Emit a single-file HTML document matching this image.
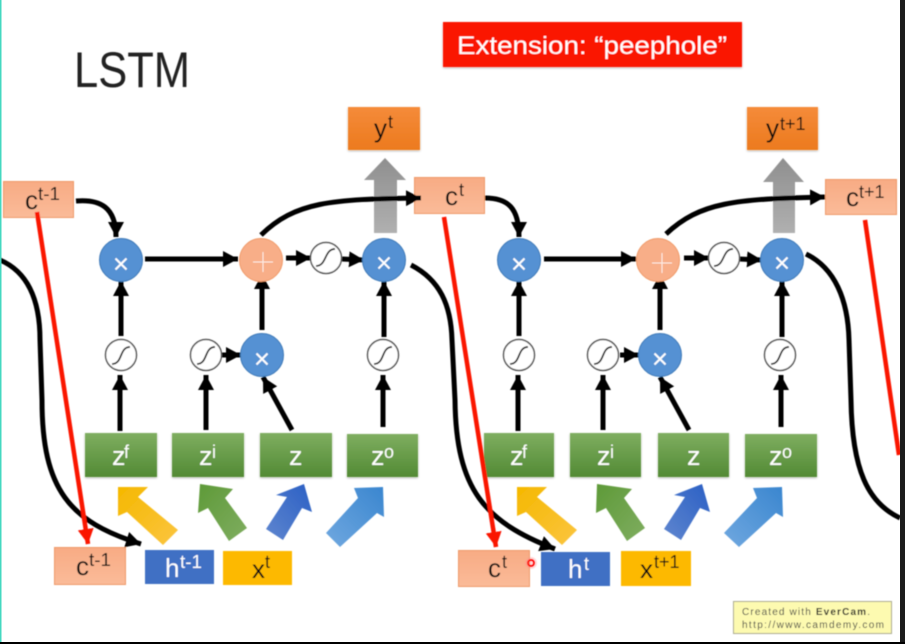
<!DOCTYPE html>
<html><head><meta charset="utf-8"><style>
html,body{margin:0;padding:0;background:#fff;width:905px;height:644px;overflow:hidden}
svg{display:block}
text{font-family:"Liberation Sans",sans-serif}
</style></head><body>
<svg width="905" height="644" viewBox="0 0 905 644" xmlns="http://www.w3.org/2000/svg">
<defs>
<linearGradient id="gr" x1="0" y1="0" x2="0" y2="1"><stop offset="0" stop-color="#7fae60"/><stop offset="1" stop-color="#528a34"/></linearGradient>
<linearGradient id="or" x1="0" y1="0" x2="0" y2="1"><stop offset="0" stop-color="#f58b3a"/><stop offset="1" stop-color="#ec7a1e"/></linearGradient>
<linearGradient id="pe" x1="0" y1="0" x2="0" y2="1"><stop offset="0" stop-color="#f8ab84"/><stop offset="1" stop-color="#fabb99"/></linearGradient>
<linearGradient id="ga" x1="0" y1="0" x2="0" y2="1"><stop offset="0" stop-color="#8f8f8f"/><stop offset="1" stop-color="#b0b0b0"/></linearGradient>
<linearGradient id="yl" x1="0" y1="0" x2="1" y2="1"><stop offset="0" stop-color="#f5b800"/><stop offset="1" stop-color="#fbc540"/></linearGradient>
<linearGradient id="gn" x1="0" y1="0" x2="1" y2="1"><stop offset="0" stop-color="#5e9a38"/><stop offset="1" stop-color="#7fad60"/></linearGradient>
<linearGradient id="bl" x1="1" y1="0" x2="0" y2="1"><stop offset="0" stop-color="#2a5fc4"/><stop offset="1" stop-color="#5f86cf"/></linearGradient>
<linearGradient id="lb" x1="1" y1="0" x2="0" y2="1"><stop offset="0" stop-color="#3a86cf"/><stop offset="1" stop-color="#70a8e0"/></linearGradient>
<marker id="a" markerUnits="userSpaceOnUse" markerWidth="18" markerHeight="18" refX="15" refY="8" orient="auto"><path d="M0,0 L15,8 L0,16 Z" fill="#000"/></marker>
<marker id="r" markerUnits="userSpaceOnUse" markerWidth="18" markerHeight="18" refX="15" refY="8" orient="auto"><path d="M0,0 L15,8 L0,16 Z" fill="#fa1400"/></marker>
<filter id="s" x="-10%" y="-10%" width="120%" height="130%"><feDropShadow dx="0" dy="1" stdDeviation="1" flood-color="#000" flood-opacity=".3"/></filter>
<filter id="b" x="-5%" y="-5%" width="110%" height="110%"><feGaussianBlur stdDeviation="0.45"/></filter>
</defs>
<rect width="905" height="644" fill="#fff"/>
<g filter="url(#b)">
<text x="74" y="87" font-size="50" fill="#222" textLength="116" lengthAdjust="spacingAndGlyphs">LSTM</text>
<rect x="443" y="22" width="299" height="45" fill="#fa1400" filter="url(#s)"/>
<text x="457" y="54" font-size="25" fill="#fff" textLength="270" lengthAdjust="spacingAndGlyphs">Extension: “peephole”</text>

<!-- LEFT BLOCK -->
<polygon points="385,158 406,180 397,180 397,233 374,233 374,180 364,180" fill="url(#ga)"/>
<polygon points="118,487 148,487 138,497 178,530 163,545 127,512 118,516" fill="url(#yl)"/>
<polygon points="200,484 233,489 225,498 247,528 229,541 208,508 198,513" fill="url(#gn)"/>
<polygon points="304,484 312,512 302,508 283,540 266,529 287,497 276,495" fill="url(#bl)"/>
<polygon points="383,487 384,517 377,513 340,547 326,533 358,498 354,488" fill="url(#lb)"/>

<rect x="85" y="433" width="72" height="44" fill="url(#gr)" filter="url(#s)"/>
<rect x="172" y="433" width="72" height="44" fill="url(#gr)" filter="url(#s)"/>
<rect x="260" y="433" width="72" height="44" fill="url(#gr)" filter="url(#s)"/>
<rect x="347" y="434" width="71" height="43" fill="url(#gr)" filter="url(#s)"/>
<text x="112" y="465" font-size="27" fill="#fff">z</text><text x="124" y="458" font-size="18" fill="#fff">f</text>
<text x="199" y="465" font-size="27" fill="#fff">z</text><text x="212" y="458" font-size="18" fill="#fff">i</text>
<text x="289" y="465" font-size="27" fill="#fff">z</text>
<text x="371" y="465" font-size="27" fill="#fff">z</text><text x="384" y="458" font-size="18" fill="#fff">o</text>

<rect x="3.5" y="181.5" width="70" height="36" fill="url(#pe)" stroke="#ee9a68"/>
<text x="25" y="209" font-size="26" fill="#111">c</text><text x="38" y="200" font-size="18" fill="#111" textLength="22" lengthAdjust="spacingAndGlyphs">t-1</text>
<rect x="54.5" y="547.5" width="71" height="37" fill="url(#pe)" stroke="#ee9a68"/>
<text x="76" y="575" font-size="26" fill="#111">c</text><text x="89" y="566" font-size="18" fill="#111" textLength="22" lengthAdjust="spacingAndGlyphs">t-1</text>
<rect x="145" y="550" width="69" height="34" fill="#3f6fc4"/>
<text x="165" y="577" font-size="26" fill="#fff">h</text><text x="180" y="568" font-size="18" fill="#fff" textLength="22" lengthAdjust="spacingAndGlyphs">t-1</text>
<rect x="223" y="551" width="69" height="34" fill="#fdb900"/>
<text x="252" y="578" font-size="26" fill="#111">x</text><text x="265" y="568" font-size="18" fill="#111">t</text>
<rect x="348" y="107" width="72" height="43" fill="url(#or)" filter="url(#s)"/>
<text x="374" y="137" font-size="26" fill="#111">y</text><text x="388" y="128" font-size="18" fill="#111">t</text>
<rect x="414.5" y="177.5" width="70" height="36" fill="url(#pe)" stroke="#ee9a68"/>
<text x="445" y="205" font-size="26" fill="#111">c</text><text x="459" y="196" font-size="18" fill="#111">t</text>

<g fill="none" stroke="#000" stroke-width="5">
<path d="M0,260 C28,272 40,300 40,340 L42,400 C42,490 70,522 141,544" marker-end="url(#a)"/>
<path d="M76,201 C100,199 116,207 116,237" marker-end="url(#a)"/>
<path d="M145,259 L238,259" marker-end="url(#a)"/>
<path d="M286,258 L311,258" marker-end="url(#a)"/>
<path d="M342,259 L364,260" marker-end="url(#a)"/>
<path d="M121,336 L121,281" marker-end="url(#a)"/>
<path d="M120,431 L120,375" marker-end="url(#a)"/>
<path d="M206,430 L206,375" marker-end="url(#a)"/>
<path d="M222,355 L241,355" marker-end="url(#a)"/>
<path d="M262,330 L262,274" marker-end="url(#a)"/>
<path d="M292,430 L263,377" marker-end="url(#a)"/>
<path d="M383,427 L383,375" marker-end="url(#a)"/>
<path d="M384,337 L384,281" marker-end="url(#a)"/>
<path d="M261,235 C295,202 330,199 421,198" marker-end="url(#a)"/>
<path d="M411,265 C440,280 451,305 452,340 L455,400 C456,490 485,522 555,549" marker-end="url(#a)"/>
</g>

<g stroke="#3f7ab8" fill="#5591d3">
<circle cx="121" cy="260" r="21.5"/><circle cx="384" cy="260" r="21.5"/><circle cx="262" cy="355" r="21.5"/>
</g>
<circle cx="261" cy="260" r="21.5" fill="#f8ae88" stroke="#f09a68"/>
<g stroke="#fff" stroke-width="2" fill="none">
<path d="M115.500,258.500 l11,11 m0,-11 l-11,11"/>
<path d="M378.500,257.500 l11,11 m0,-11 l-11,11"/>
<path d="M256.500,353.500 l11,11 m0,-11 l-11,11"/>
<path d="M263,252 v20 m-10,-10 h20" stroke-width="1" opacity=".8"/>
</g>
<g fill="#fff" stroke="#555" stroke-width="1.500">
<circle cx="326" cy="258" r="15.500"/><circle cx="121" cy="355" r="15.500"/><circle cx="206" cy="355" r="15.500"/><circle cx="383" cy="355" r="15.500"/>
</g>
<g fill="none" stroke="#222" stroke-width="1.700">
<path d="M316,266 C327,266 324,249 335,249"/>
<path d="M112,364 C123,364 119,347 130,347"/>
<path d="M197,364 C208,364 204,347 215,347"/>
<path d="M374,364 C385,364 381,347 392,347"/>
</g>

<!-- RIGHT BLOCK -->
<polygon points="783,158 804,182 795,182 795,233 773,233 773,182 763,182" fill="url(#ga)"/>
<polygon points="517,487 547,487 537,497 577,530 562,545 526,512 517,516" fill="url(#yl)"/>
<polygon points="597,484 632,489 624,498 645,528 627,541 606,508 596,513" fill="url(#gn)"/>
<polygon points="702,484 710,512 700,508 681,540 664,529 685,497 674,495" fill="url(#bl)"/>
<polygon points="782,487 783,517 776,513 739,547 724,533 757,498 753,488" fill="url(#lb)"/>

<rect x="484" y="433" width="70" height="44" fill="url(#gr)" filter="url(#s)"/>
<rect x="570" y="433" width="71" height="44" fill="url(#gr)" filter="url(#s)"/>
<rect x="658" y="433" width="71" height="44" fill="url(#gr)" filter="url(#s)"/>
<rect x="745" y="434" width="72" height="43" fill="url(#gr)" filter="url(#s)"/>
<text x="510" y="465" font-size="27" fill="#fff">z</text><text x="522" y="458" font-size="18" fill="#fff">f</text>
<text x="597" y="465" font-size="27" fill="#fff">z</text><text x="610" y="458" font-size="18" fill="#fff">i</text>
<text x="687" y="465" font-size="27" fill="#fff">z</text>
<text x="769" y="465" font-size="27" fill="#fff">z</text><text x="782" y="458" font-size="18" fill="#fff">o</text>

<rect x="458.500" y="550.500" width="71" height="36" fill="url(#pe)" stroke="#ee9a68"/>
<text x="488" y="577" font-size="26" fill="#111">c</text><text x="502" y="568" font-size="18" fill="#111">t</text>
<rect x="541" y="552" width="69" height="34" fill="#3f6fc4"/>
<text x="568" y="578" font-size="26" fill="#fff">h</text><text x="584" y="570" font-size="18" fill="#fff">t</text>
<rect x="621" y="551" width="70" height="35" fill="#fdb900"/>
<text x="640" y="578" font-size="26" fill="#111">x</text><text x="654" y="568" font-size="18" fill="#111">t+1</text>
<rect x="747" y="107" width="71" height="43" fill="url(#or)" filter="url(#s)"/>
<text x="766" y="137" font-size="26" fill="#111">y</text><text x="780" y="130" font-size="18" fill="#111">t+1</text>
<rect x="825.500" y="179.500" width="71" height="35" fill="url(#pe)" stroke="#ee9a68"/>
<text x="846" y="206" font-size="26" fill="#111">c</text><text x="859" y="198" font-size="18" fill="#111">t+1</text>

<g fill="none" stroke="#000" stroke-width="5">
<path d="M485,198 C508,198 519,208 519,237" marker-end="url(#a)"/>
<path d="M544,259 L636,259" marker-end="url(#a)"/>
<path d="M684,258 L709,258" marker-end="url(#a)"/>
<path d="M739,259 L762,260" marker-end="url(#a)"/>
<path d="M519,336 L519,281" marker-end="url(#a)"/>
<path d="M518,431 L518,375" marker-end="url(#a)"/>
<path d="M603,430 L603,375" marker-end="url(#a)"/>
<path d="M620,355 L639,355" marker-end="url(#a)"/>
<path d="M660,330 L660,274" marker-end="url(#a)"/>
<path d="M689,430 L660,377" marker-end="url(#a)"/>
<path d="M781,427 L781,375" marker-end="url(#a)"/>
<path d="M782,337 L782,281" marker-end="url(#a)"/>
<path d="M666,234 C700,202 735,199 825,197" marker-end="url(#a)"/>
<path d="M806,254 C835,268 848,300 849,340 L851,400 C852,470 868,503 900,518"/>
</g>

<g stroke="#3f7ab8" fill="#5591d3">
<circle cx="519" cy="260" r="21.5"/><circle cx="782" cy="260" r="21.5"/><circle cx="660" cy="355" r="21.5"/>
</g>
<circle cx="658" cy="260" r="21.5" fill="#f8ae88" stroke="#f09a68"/>
<g stroke="#fff" stroke-width="2" fill="none">
<path d="M513.500,258.500 l11,11 m0,-11 l-11,11"/>
<path d="M776.500,257.500 l11,11 m0,-11 l-11,11"/>
<path d="M654.500,353.500 l11,11 m0,-11 l-11,11"/>
<path d="M662,253 v20 m-10,-10 h20" stroke-width="1" opacity=".8"/>
</g>
<g fill="#fff" stroke="#555" stroke-width="1.500">
<circle cx="724" cy="258" r="15.500"/><circle cx="519" cy="355" r="15.500"/><circle cx="603" cy="355" r="15.500"/><circle cx="780" cy="355" r="15.500"/>
</g>
<g fill="none" stroke="#222" stroke-width="1.700">
<path d="M714,266 C725,266 722,249 733,249"/>
<path d="M510,364 C521,364 517,347 528,347"/>
<path d="M594,364 C605,364 601,347 612,347"/>
<path d="M771,364 C782,364 778,347 789,347"/>
</g>

<!-- RED -->
<g fill="none" stroke="#fa1400" stroke-width="4.500">
<path d="M37,212 L88,544" marker-end="url(#r)"/>
<path d="M444,217 L496,547" marker-end="url(#r)"/>
<path d="M865,220 L899,455"/>
</g>
<circle cx="531" cy="563" r="6" fill="#ff9090" opacity=".35"/>
<circle cx="531" cy="563" r="3" fill="none" stroke="#f00" stroke-width="2"/>

<rect x="733.500" y="601.500" width="158" height="32" fill="#fdfab0" stroke="#a8a890"/>
<text x="742" y="615" font-size="10" fill="#444" textLength="128"><tspan>Created with </tspan><tspan font-weight="bold" fill="#222">EverCam</tspan><tspan>.</tspan></text>
<text x="742" y="628" font-size="10" fill="#444" textLength="142">http://www.camdemy.com</text>
</g>

<rect x="0" y="0" width="1.500" height="644" fill="#44d8c0"/>
<rect x="900" y="0" width="5" height="644" fill="#1c1c1c"/>
<rect x="0" y="642" width="905" height="2" fill="#000"/>
</svg>
</body></html>
